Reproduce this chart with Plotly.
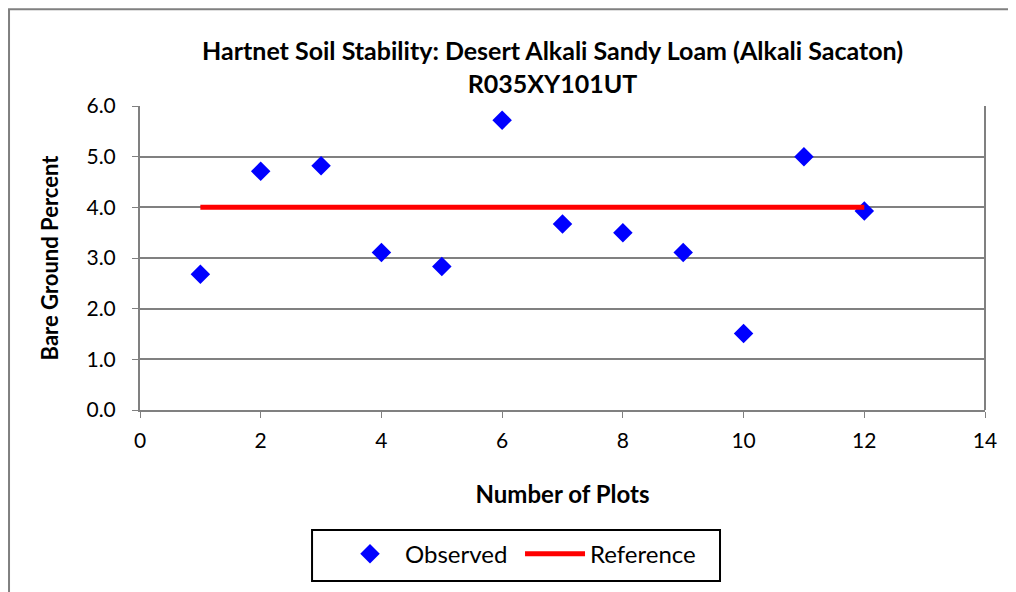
import plotly.graph_objects as go

plots = [1, 2, 3, 4, 5, 6, 7, 8, 9, 10, 11, 12]
observed = [2.68, 4.71, 4.82, 3.11, 2.83, 5.72, 3.67, 3.50, 3.11, 1.51, 5.00, 3.93]
reference_x = [1, 12]
reference_y = [4.0, 4.0]

FONT = "Lato, 'Open Sans', sans-serif"

fig = go.Figure()
fig.add_trace(go.Scatter(
    x=plots, y=observed, mode="markers", name="Observed",
    marker=dict(symbol="diamond", size=15, color="#0000ff"),
))
fig.add_trace(go.Scatter(
    x=reference_x, y=reference_y, mode="lines", name="Reference",
    line=dict(color="#ff0000", width=5),
))

fig.update_layout(
    width=1016, height=592,
    paper_bgcolor="white", plot_bgcolor="white",
    margin=dict(l=132, r=39, t=98, b=190, autoexpand=False),
    font=dict(family=FONT, size=21, color="#000000"),
    title=dict(
        text="<b>Hartnet Soil Stability: Desert Alkali Sandy Loam (Alkali Sacaton)</b><br><b>R035XY101UT</b>",
        x=0.536, xanchor="center", y=0.912, yanchor="top",
        font=dict(family=FONT, size=25, color="#000000"),
    ),
    showlegend=True,
    legend=dict(
        orientation="h", x=0.2308, xanchor="left", y=-0.40, yanchor="top",
        borderwidth=0, bgcolor="rgba(0,0,0,0)",
        font=dict(family=FONT, size=24), itemwidth=60, entrywidth=110,
    ),
    xaxis=dict(
        range=[0, 14], dtick=2, tick0=0, showgrid=False, zeroline=False,
        showline=True, linecolor="#808080", linewidth=2, mirror=False,
        ticks="outside", ticklen=6, tickcolor="#808080", ticklabelstandoff=5,
        title=dict(text="<b>Number of Plots</b>", font=dict(family=FONT, size=24), standoff=35),
        tickfont=dict(size=21),
    ),
    yaxis=dict(
        range=[0, 6], dtick=1, tickformat=".1f", showgrid=True, gridcolor="#808080", gridwidth=2,
        zeroline=False, showline=True, linecolor="#808080", linewidth=2,
        ticks="outside", ticklen=6, tickcolor="#808080", ticklabelstandoff=12,
        title=dict(text="<b>Bare Ground Percent</b>", font=dict(family=FONT, size=22), standoff=22),
        tickfont=dict(size=21),
    ),
    shapes=[
        dict(type="line", xref="paper", yref="paper", x0=1, x1=1, y0=0, y1=1,
             line=dict(color="#808080", width=2)),
        dict(type="rect", xref="paper", yref="paper", x0=-0.155, x1=1.2, y0=-0.7, y1=1.318,
             line=dict(color="#808080", width=2), layer="below"),
        dict(type="rect", xref="paper", yref="paper", x0=0.2036, x1=0.6864, y0=-0.5625, y1=-0.3947,
             line=dict(color="#000000", width=2), fillcolor="white", layer="below"),
    ],
)

fig.write_html("out.html")
